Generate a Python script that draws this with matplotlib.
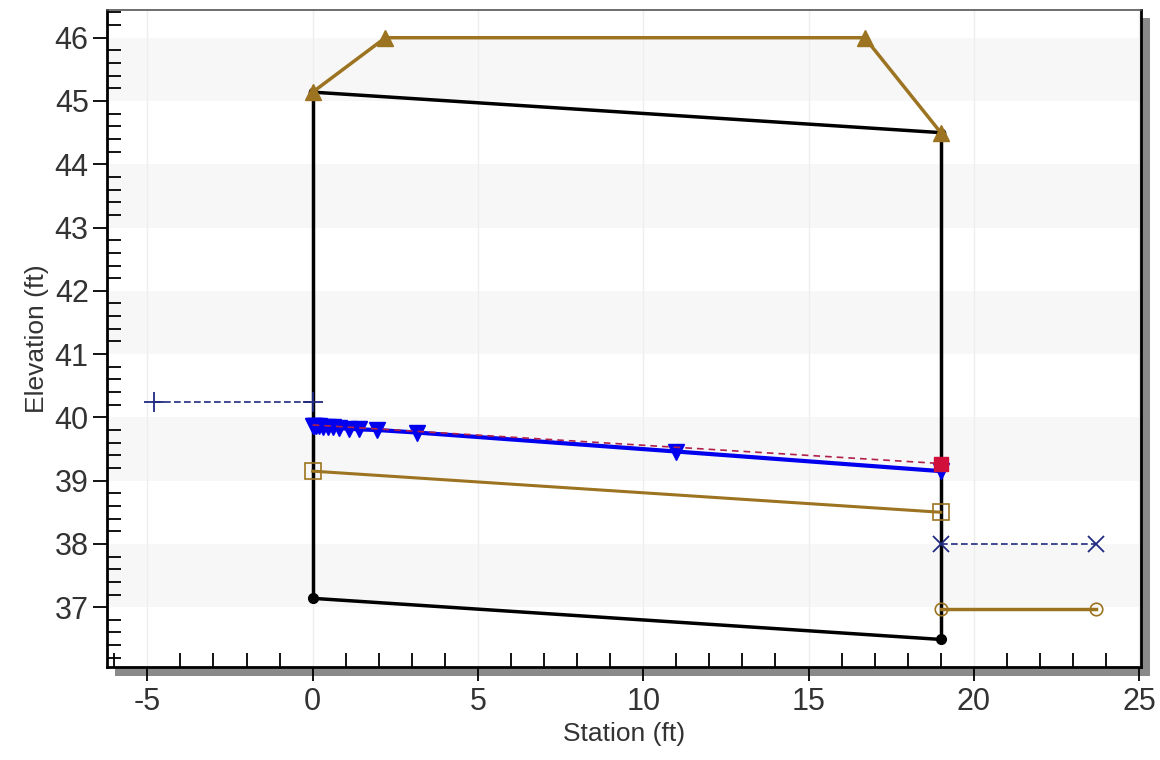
import matplotlib
matplotlib.use("Agg")
import matplotlib.pyplot as plt
from matplotlib.ticker import MultipleLocator
from matplotlib.patches import Rectangle

plt.rcParams['font.family'] = ['Liberation Sans', 'DejaVu Sans']
plt.rcParams['axes.unicode_minus'] = False

# culvert box (black)
box_x = [0, 0, 19, 19]
box_bottom_y = [37.14, 36.49]
box_top_y = [45.14, 44.50]

# road / embankment (brown triangles)
road_x = [0, 2.2, 16.7, 19]
road_y = [45.14, 46.0, 46.0, 44.50]

# critical depth (brown squares)
crit_x = [0, 19]
crit_y = [39.15, 38.50]

# tailwater channel (brown circles)
tail_x = [19, 23.7]
tail_y = [36.97, 36.97]

# headwater / tailwater levels (navy dashed)
hw_x = [-4.8, 0]
hw_y = [40.25, 40.25]
tw_x = [19, 23.7]
tw_y = [38.0, 38.0]

# water surface profile (blue, down triangles)
ws_x = [0, 0.05, 0.1, 0.2, 0.3, 0.45, 0.6, 0.8, 1.1, 1.4, 1.95, 3.15, 11.0, 19.0]
ws_y = [39.87, 39.87, 39.86, 39.86, 39.85, 39.85, 39.84, 39.83, 39.82, 39.81, 39.80, 39.76, 39.46, 39.15]

# energy grade line (red dashed)
egl_x = [0, 19]
egl_y = [39.88, 39.27]

BROWN = '#9C7320'
NAVY = '#1F2A80'
TXT = '#333333'

fig = plt.figure(figsize=(11.6, 7.6), dpi=100)
ax = fig.add_axes([0.092, 0.122, 0.892, 0.865])

# shadow behind plot area
fig.patches.append(Rectangle((0.092 + 0.007, 0.122 - 0.011), 0.892, 0.865,
                             transform=fig.transFigure, facecolor='#8a8a8a',
                             edgecolor='none', zorder=-1))
ax.set_facecolor('white')

# alternating bands
for lo in [37, 39, 41, 43, 45]:
    ax.axhspan(lo, lo + 1, color='#f7f7f7', zorder=0, lw=0)
for xv in range(-5, 26, 5):
    ax.axvline(xv, color='#eeeeee', lw=1, zorder=0.5)

# black box
ax.plot([box_x[0], box_x[1]], [box_bottom_y[0], box_top_y[0]], color='black', lw=2.5, zorder=3)
ax.plot([box_x[2], box_x[3]], [box_bottom_y[1], box_top_y[1]], color='black', lw=2.5, zorder=3)
ax.plot(crit_x, box_bottom_y, color='black', lw=2.5, marker='o', ms=7, zorder=3)
ax.plot(crit_x, box_top_y, color='black', lw=2.5, marker='o', ms=6, zorder=3)

# road
ax.plot(road_x, road_y, color=BROWN, lw=2.5, marker='^', ms=11, zorder=4)

# critical depth
ax.plot(crit_x, crit_y, color=BROWN, lw=2.2, marker='s', ms=12, mfc='none', mec=BROWN, mew=1.2, zorder=4)

# tailwater channel
ax.plot(tail_x, tail_y, color=BROWN, lw=2.5, marker='o', ms=9, mfc='none', mec=BROWN, mew=1.2, zorder=4)

# HW / TW
ax.plot(hw_x, hw_y, color=NAVY, lw=1.2, ls=(0, (4, 2)), marker='+', ms=14, mew=1.3, zorder=4)
ax.plot(tw_x, tw_y, color=NAVY, lw=1.2, ls=(0, (4, 2)), marker='x', ms=12, mew=1.3, zorder=4)

# water surface and EGL
ax.plot(ws_x, ws_y, color='#0000EE', lw=3, marker='v', ms=11, zorder=5)
ax.plot(egl_x, egl_y, color='#B0204A', lw=1.2, ls=(0, (4, 3)), zorder=6)
ax.plot([egl_x[-1]], [egl_y[-1]], color='#D0103A', marker='s', ms=10, zorder=6)

ax.set_xlim(-6.23, 25.07)
ax.set_ylim(36.05, 46.44)

ax.xaxis.set_major_locator(MultipleLocator(5))
ax.xaxis.set_minor_locator(MultipleLocator(1))
ax.yaxis.set_major_locator(MultipleLocator(1))
ax.yaxis.set_minor_locator(MultipleLocator(0.2))

ax.tick_params(which='major', direction='out', length=10, width=1.3, labelsize=22, colors='black', labelcolor=TXT)
ax.tick_params(which='minor', direction='in', length=10, width=1.3, colors='black')
ax.tick_params(axis='x', which='major', pad=4)
ax.tick_params(axis='y', which='major', pad=3)

for s in ['left', 'bottom', 'right']:
    ax.spines[s].set_linewidth(2)
    ax.spines[s].set_color('black')
ax.spines['top'].set_linewidth(1.2)
ax.spines['top'].set_color('#555555')

ax.set_xlabel('Station (ft)', fontsize=19, color=TXT, labelpad=4)
ax.set_ylabel('Elevation (ft)', fontsize=19, color=TXT, labelpad=4)

fig.savefig('out.png', dpi=100)
